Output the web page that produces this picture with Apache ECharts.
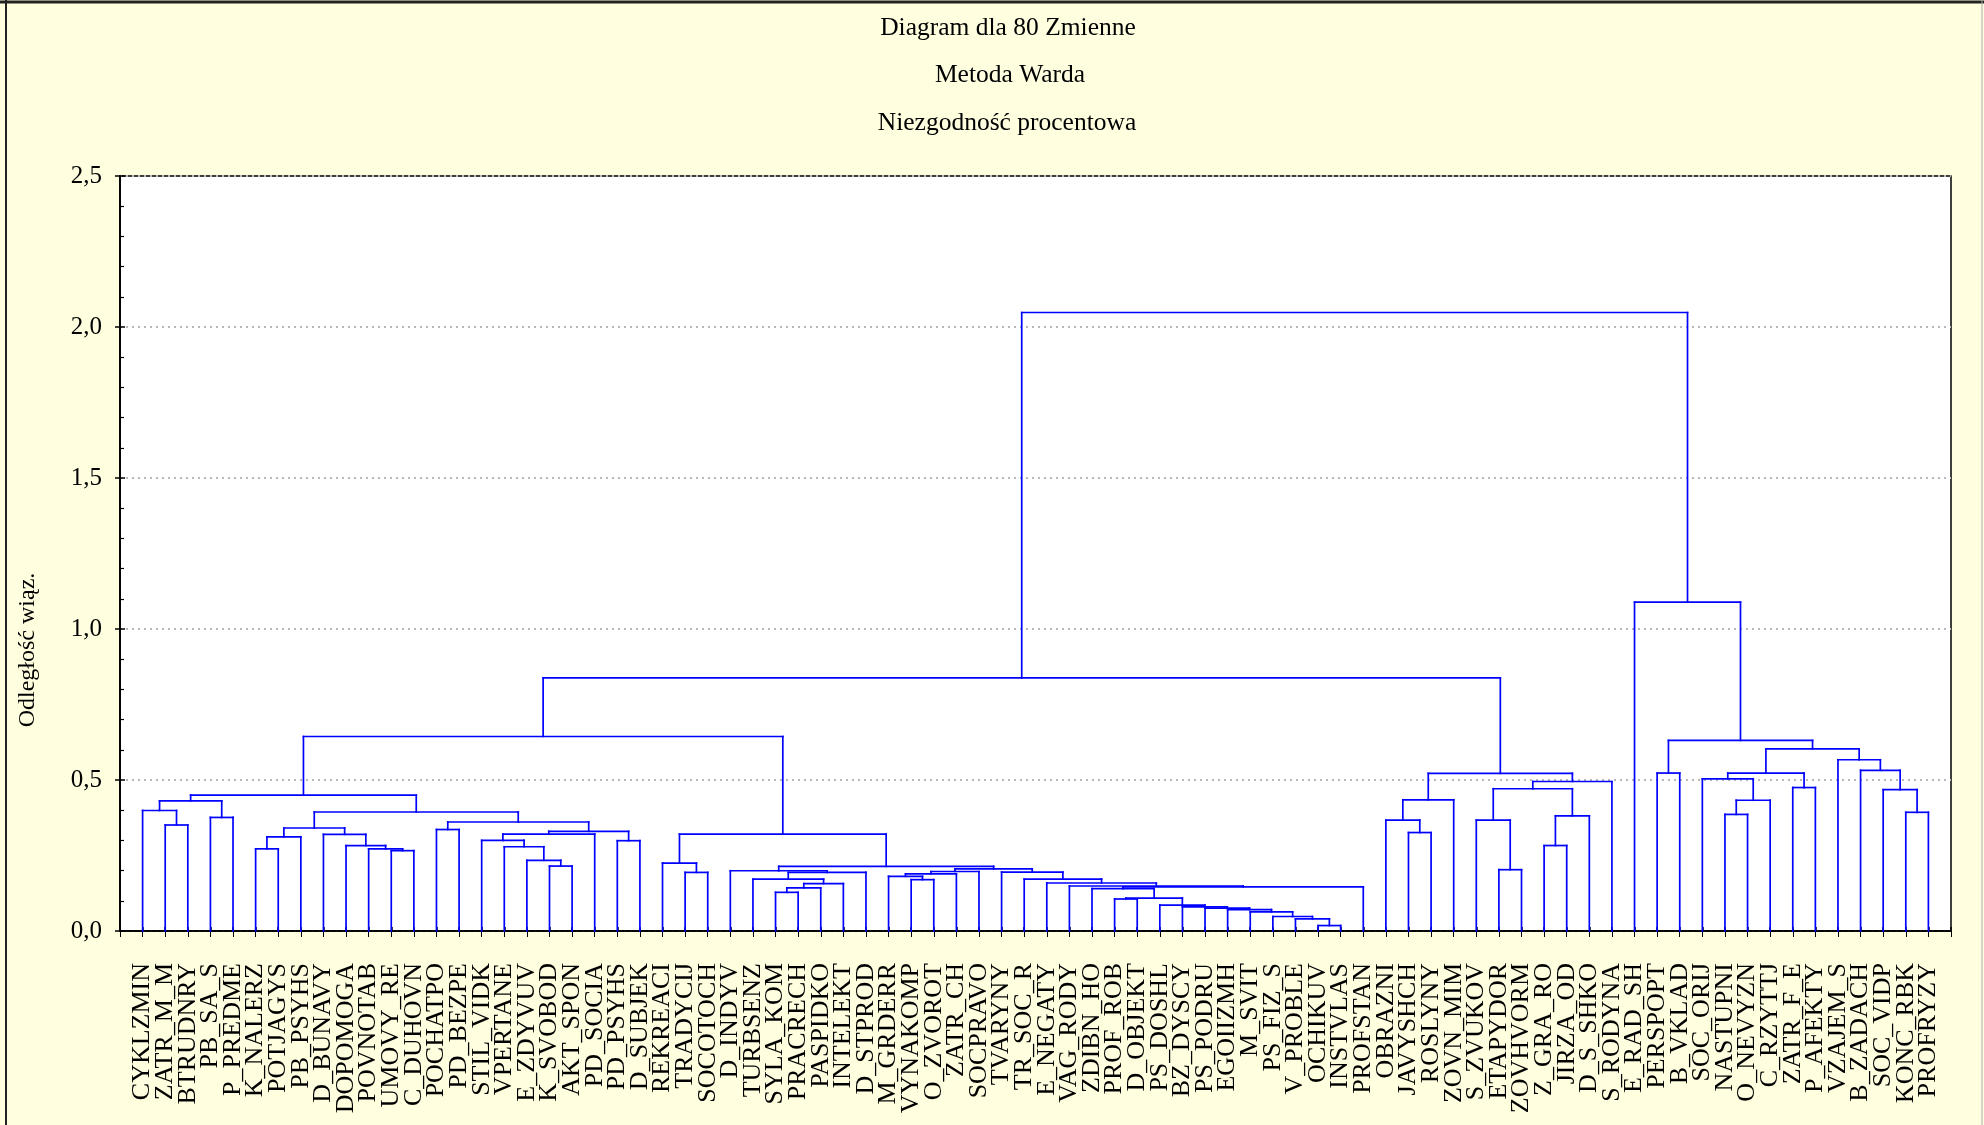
<!DOCTYPE html>
<html>
<head>
<meta charset="utf-8">
<script src="https://cdn.jsdelivr.net/npm/echarts@6/dist/echarts.min.js"></script>
<style>
html,body{margin:0;padding:0;background:#FFFFE0;}
#chart{width:1984px;height:1125px;}
</style>
</head>
<body>
<div id="chart"></div>
<script>
// Leaf labels (left to right)
const labels = ['CYKLZMIN','ZATR_M_M','BTRUDNRY','PB_SA_S','P_PREDME','K_NALERZ','POTJAGYS','PB_PSYHS','D_BUNAVY','DOPOMOGA',
'POVNOTAB','UMOVY_RE','C_DUHOVN','POCHATPO','PD_BEZPE','STIL_VIDK','VPERTANE','E_ZDYVUV','K_SVOBOD','AKT_SPON',
'PD_SOCIA','PD_PSYHS','D_SUBJEK','REKREACI','TRADYCIJ','SOCOTOCH','D_INDYV','TURBSENZ','SYLA_KOM','PRACRECH',
'PASPIDKO','INTELEKT','D_STPROD','M_GRDERR','VYNAKOMP','O_ZVOROT','ZATR_CH','SOCPRAVO','TVARYNY','TR_SOC_R',
'E_NEGATY','VAG_RODY','ZDIBN_HO','PROF_ROB','D_OBJEKT','PS_DOSHL','BZ_DYSCY','PS_PODRU','EGOIIZMH','M_SVIT',
'PS_FIZ_S','V_PROBLE','OCHIKUV','INSTVLAS','PROFSTAN','OBRAZNI','JAVYSHCH','ROSLYNY','ZOVN_MIM','S_ZVUKOV',
'ETAPYDOR','ZOVHVORM','Z_GRA_RO','JIRZA_OD','D_S_SHKO','S_RODYNA','E_RAD_SH','PERSPOPT','B_VKLAD','SOC_ORIJ',
'NASTUPNI','O_NEVYZN','C_RZYTTJ','ZATR_F_E','P_AFEKTY','VZAJEM_S','B_ZADACH','SOC_VIDP','KONC_RBK','PROFRYZY'];

// Merge tree: [left, right, linkage distance]; leaves are 1-based label positions
const clusterA = [[1, [2, 3, 0.351], 0.399], [4, 5, 0.376], 0.431];
const clusterB = [[[6, 7, 0.272], 8, 0.312], [9, [10, [11, [12, 13, 0.266], 0.272], 0.283], 0.320], 0.341];
const clusterC = [[14, 15, 0.336], [[[16, [17, [18, [19, 20, 0.215], 0.234], 0.279], 0.300], 21, 0.321], [22, 23, 0.299], 0.330], 0.361];
const clusterD = [24, [25, 26, 0.194], 0.225];
const clusterE = [27, [[28, [[[29, 30, 0.128], 31, 0.143], 32, 0.157], 0.172], 33, 0.194], 0.1995];
const clusterF1 = [[[34, [35, 36, 0.170], 0.181], 37, 0.189], 38, 0.197];
const chain46 = [46, [47, [48, [49, [50, [51, [52, [53, 54, 0.018], 0.040], 0.048], 0.063], 0.071], 0.076], 0.080], 0.086];
const clusterF2 = [39, [40, [41, [42, [[43, [[44, 45, 0.106], chain46, 0.109], 0.140], 55, 0.146], 0.149], 0.159], 0.172], 0.195];
const clusterR1 = [[[56, [57, 58, 0.326], 0.367], 59, 0.4345],
                   [[[60, [61, 62, 0.203], 0.367], [[63, 64, 0.283], 65, 0.3815], 0.471], 66, 0.495], 0.522];
const clusterR2 = [67, [[68, 69, 0.523],
                   [[[70, [[71, 72, 0.386], 73, 0.433], 0.504], [74, 75, 0.475], 0.5227],
                    [76, [77, [78, [79, 80, 0.393], 0.468], 0.532], 0.567], 0.603], 0.631], 1.089];
const topHeights = { bc: 0.394, l1: 0.450, f: 0.206, ef: 0.214, l2: 0.321, left: 0.644, mid: 0.838, root: 2.048 };

const yTicks = [0, 0.5, 1.0, 1.5, 2.0, 2.5];

const clusterL1 = [clusterA, [clusterB, clusterC, topHeights.bc], topHeights.l1];
const clusterL2 = [clusterD, [clusterE, [clusterF1, clusterF2, topHeights.f], topHeights.ef], topHeights.l2];
const root = [[[clusterL1, clusterL2, topHeights.left], clusterR1, topHeights.mid], clusterR2, topHeights.root];

const segments = [];
function walk(node) {
  if (typeof node === 'number') return { x: node, h: 0 };
  const l = walk(node[0]), r = walk(node[1]), h = node[2];
  segments.push([l.x, l.h, l.x, h]);
  segments.push([r.x, r.h, r.x, h]);
  segments.push([l.x, h, r.x, h]);
  return { x: (l.x + r.x) / 2, h: h };
}
walk(root);

const serif = 'Liberation Serif, Times New Roman, serif';
const chart = echarts.init(document.getElementById('chart'), null, { renderer: 'canvas' });
chart.setOption({
  backgroundColor: '#FFFFE0',
  animation: false,
  grid: { left: 120, right: 33, top: 176, bottom: 194, show: true, backgroundColor: '#ffffff', borderColor: '#000', borderWidth: 1.5 },
  graphic: [
    { type: 'line', shape: { x1: 0, y1: 2, x2: 1984, y2: 2 }, style: { stroke: '#222', lineWidth: 3 } },
    { type: 'line', shape: { x1: 6, y1: 0, x2: 6, y2: 1125 }, style: { stroke: '#222', lineWidth: 2 } },
    { type: 'line', shape: { x1: 1982, y1: 0, x2: 1982, y2: 1125 }, style: { stroke: '#aaa', lineWidth: 1 } },
    { type: 'text', style: { text: 'Diagram dla 80 Zmienne', x: 1008, y: 28, textAlign: 'center', textVerticalAlign: 'middle', font: '25.5px ' + serif, fill: '#000' } },
    { type: 'text', style: { text: 'Metoda Warda', x: 1010, y: 75, textAlign: 'center', textVerticalAlign: 'middle', font: '25.5px ' + serif, fill: '#000' } },
    { type: 'text', style: { text: 'Niezgodność procentowa', x: 1007, y: 123, textAlign: 'center', textVerticalAlign: 'middle', font: '25.5px ' + serif, fill: '#000' } },
    { type: 'text', x: 28, y: 650, rotation: Math.PI / 2, style: { text: 'Odległość wiąz.', x: 0, y: 0, textAlign: 'center', textVerticalAlign: 'middle', font: '24px ' + serif, fill: '#000' } }
  ],
  xAxis: [
    {
      type: 'value', position: 'bottom', min: 0, max: 81, interval: 1,
      axisLine: { show: true, lineStyle: { color: '#000', width: 1.5 } },
      axisTick: { show: true, inside: true, length: 4, lineStyle: { color: '#000', width: 1.5 } },
      splitLine: { show: false },
      axisLabel: {
        rotate: 90, margin: 32, color: '#000', fontFamily: serif, fontSize: 26,
        formatter: function (v) { return labels[Math.round(v) - 1] || ''; }
      }
    },
    {
      type: 'value', position: 'top', min: 0, max: 81, interval: 1,
      axisLine: { show: true, lineStyle: { color: '#000', width: 1.5 } },
      axisTick: { show: true, inside: true, length: 6, lineStyle: { color: '#000', width: 1 } },
      splitLine: { show: false }, axisLabel: { show: false }
    }
  ],
  yAxis: [
    {
      type: 'value', position: 'left', min: yTicks[0], max: yTicks[yTicks.length - 1], interval: 0.5,
      axisLine: { show: true, lineStyle: { color: '#000', width: 1.5 } },
      axisTick: { show: true, inside: true, length: 5, lineStyle: { color: '#000', width: 1.5 } },
      minorTick: { show: true, splitNumber: 5, length: 4, lineStyle: { color: '#000', width: 1.2 } },
      splitLine: { show: true, lineStyle: { color: '#b8b8b8', width: 2, type: [2, 4] } },
      axisLabel: { margin: 18, color: '#000', fontFamily: serif, fontSize: 25,
        formatter: function (v) { return v.toFixed(1).replace('.', ','); } }
    },
    {
      type: 'value', position: 'right', min: yTicks[0], max: yTicks[yTicks.length - 1], interval: 0.5,
      axisLine: { show: true, lineStyle: { color: '#000', width: 1.5 } },
      axisTick: { show: true, inside: true, length: 5, lineStyle: { color: '#000', width: 1.5 } },
      splitLine: { show: false }, axisLabel: { show: false }
    }
  ],
  series: [{
    type: 'custom',
    xAxisIndex: 0, yAxisIndex: 0,
    silent: true,
    encode: { x: [0, 2], y: [1, 3] },
    data: segments,
    renderItem: function (params, api) {
      const p1 = api.coord([api.value(0), api.value(1)]);
      const p2 = api.coord([api.value(2), api.value(3)]);
      return { type: 'line', shape: { x1: p1[0], y1: p1[1], x2: p2[0], y2: p2[1] },
               style: { stroke: '#0000FF', lineWidth: 1.7, lineCap: 'square' } };
    }
  }]
});
</script>
</body>
</html>
